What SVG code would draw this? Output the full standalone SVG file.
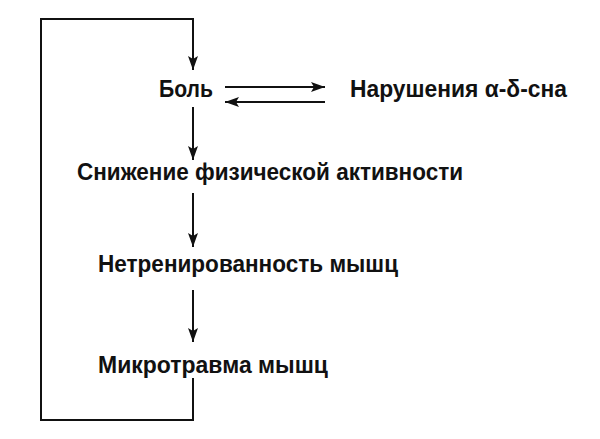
<svg xmlns="http://www.w3.org/2000/svg" width="600" height="439" viewBox="0 0 600 439">
<defs>
<style>
.t{font-family:"Liberation Sans",Arial,sans-serif;font-size:23px;font-weight:bold;fill:#111}
.c{fill:none;stroke:#111;stroke-width:2}
</style>
<marker id="ah" viewBox="0 0 14 10" refX="14" refY="5" markerWidth="14" markerHeight="10" markerUnits="userSpaceOnUse" orient="auto">
<path d="M0,0 L14,5 L0,10 L3,5 Z" fill="#111"/>
</marker>
</defs>
<rect width="600" height="439" fill="#fff"/>
<g id="connectors">
<path class="c" d="M193,378 V420 H41 V19 H193 V70" marker-end="url(#ah)"/>
<path class="c" d="M225,87 H325" marker-end="url(#ah)"/>
<path class="c" d="M325,102 H225" marker-end="url(#ah)"/>
<path class="c" d="M193,107 V160" marker-end="url(#ah)"/>
<path class="c" d="M193,193 V247" marker-end="url(#ah)"/>
<path class="c" d="M193,290 V342" marker-end="url(#ah)"/>
</g>
<g id="bol"><text class="t" x="159" y="97" textLength="54" lengthAdjust="spacingAndGlyphs">Боль</text></g>
<g id="narush"><text class="t" x="350" y="97" textLength="217" lengthAdjust="spacingAndGlyphs">Нарушения α-δ-сна</text></g>
<g id="snizh"><text class="t" x="77" y="180" textLength="386" lengthAdjust="spacingAndGlyphs">Снижение физической активности</text></g>
<g id="netren"><text class="t" x="98" y="272" textLength="300" lengthAdjust="spacingAndGlyphs">Нетренированность мышц</text></g>
<g id="mikro"><text class="t" x="98" y="373" textLength="230" lengthAdjust="spacingAndGlyphs">Микротравма мышц</text></g>
</svg>
